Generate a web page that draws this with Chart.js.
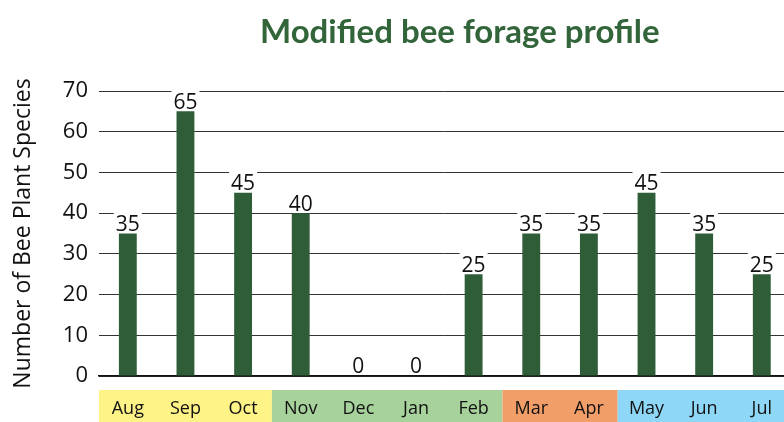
<!DOCTYPE html>
<html>
<head>
<meta charset="utf-8">
<script src="https://cdn.jsdelivr.net/npm/chart.js@4"></script>
<style>
  html, body { margin: 0; padding: 0; background: #fff; overflow: hidden; }
  #wrap { width: 794px; height: 422px; }
</style>
</head>
<body>
<div id="wrap"><canvas id="forageChart"></canvas></div>
<script>
// chart data
const months = ['Aug', 'Sep', 'Oct', 'Nov', 'Dec', 'Jan', 'Feb', 'Mar', 'Apr', 'May', 'Jun', 'Jul'];
const speciesCounts = [35, 65, 45, 40, 0, 0, 25, 35, 35, 45, 35, 25];
// season groups under the axis (first month index, last month index)
const seasonStart = [0, 3, 7, 9];
const seasonEnd = [2, 6, 8, 11];
const seasonColors = ['#fef387', '#a7d29c', '#f29e69', '#8fd7f7'];

const barColor = '#2f5d37';
const titleColor = '#33653b';
const chartTitle = 'Modified bee forage profile';

// paint coloured boxes behind the month labels
const seasonBands = {
  id: 'seasonBands',
  beforeDraw(chart) {
    const ctx = chart.ctx;
    const x = chart.scales.x;
    const half = (x.getPixelForValue(1) - x.getPixelForValue(0)) / 2;
    const top = chart.chartArea.bottom + 14;
    ctx.save();
    for (let i = 0; i < seasonStart.length; i++) {
      const left = x.getPixelForValue(seasonStart[i]) - half;
      const right = x.getPixelForValue(seasonEnd[i]) + half;
      ctx.fillStyle = seasonColors[i];
      ctx.fillRect(left, top, right - left, chart.height - top);
    }
    ctx.restore();
  }
};

// value labels on top of each bar, plus the title
const valueLabels = {
  id: 'valueLabels',
  afterDatasetsDraw(chart) {
    const ctx = chart.ctx;
    const meta = chart.getDatasetMeta(0);
    ctx.save();
    ctx.font = '21px "Open Sans", sans-serif';
    ctx.textAlign = 'center';
    ctx.textBaseline = 'bottom';
    meta.data.forEach((bar, i) => {
      const text = String(speciesCounts[i]);
      const w = ctx.measureText(text).width;
      ctx.fillStyle = '#fff';
      ctx.fillRect(bar.x - w / 2 - 2, bar.y - 22, w + 4, 20);
      ctx.fillStyle = '#111';
      ctx.fillText(text, bar.x, bar.y + 2);
    });

    // title sits a bit right of the plot centre, like the original
    const area = chart.chartArea;
    ctx.font = 'bold 33px Lato, sans-serif';
    ctx.fillStyle = titleColor;
    ctx.textBaseline = 'middle';
    ctx.fillText(chartTitle, (area.left + area.right) / 2 + 15, 32);
    ctx.restore();
  }
};

const ctx = document.getElementById('forageChart').getContext('2d');
new Chart(ctx, {
  type: 'bar',
  data: {
    labels: months,
    datasets: [{
      data: speciesCounts,
      backgroundColor: barColor,
      barPercentage: 0.31,
      categoryPercentage: 1
    }]
  },
  options: {
    responsive: true,
    maintainAspectRatio: false,
    animation: false,
    layout: { padding: { left: 6, right: 0, top: 91, bottom: 0 } },
    plugins: {
      legend: { display: false },
      tooltip: { enabled: false },
      title: { display: false }
    },
    scales: {
      x: {
        afterFit(scale) { scale.height = 46; },
        grid: { display: false, drawTicks: false },
        border: { display: true, color: '#111', width: 1.5 },
        ticks: {
          color: '#111',
          font: { family: '"Open Sans", sans-serif', size: 18 },
          padding: 22,
          maxRotation: 0
        }
      },
      y: {
        min: 0,
        max: 70,
        afterFit(scale) { scale.width = 93; },
        ticks: {
          stepSize: 10,
          color: '#111',
          font: { family: '"Open Sans", sans-serif', size: 22 },
          padding: 11
        },
        grid: { color: '#333', lineWidth: 1, drawTicks: false },
        border: { display: false },
        title: {
          display: true,
          text: 'Number of Bee Plant Species',
          color: '#111',
          font: { family: '"Open Sans", sans-serif', size: 23 },
          padding: { top: 4, bottom: 0 }
        }
      }
    }
  },
  plugins: [seasonBands, valueLabels]
});
</script>
</body>
</html>
